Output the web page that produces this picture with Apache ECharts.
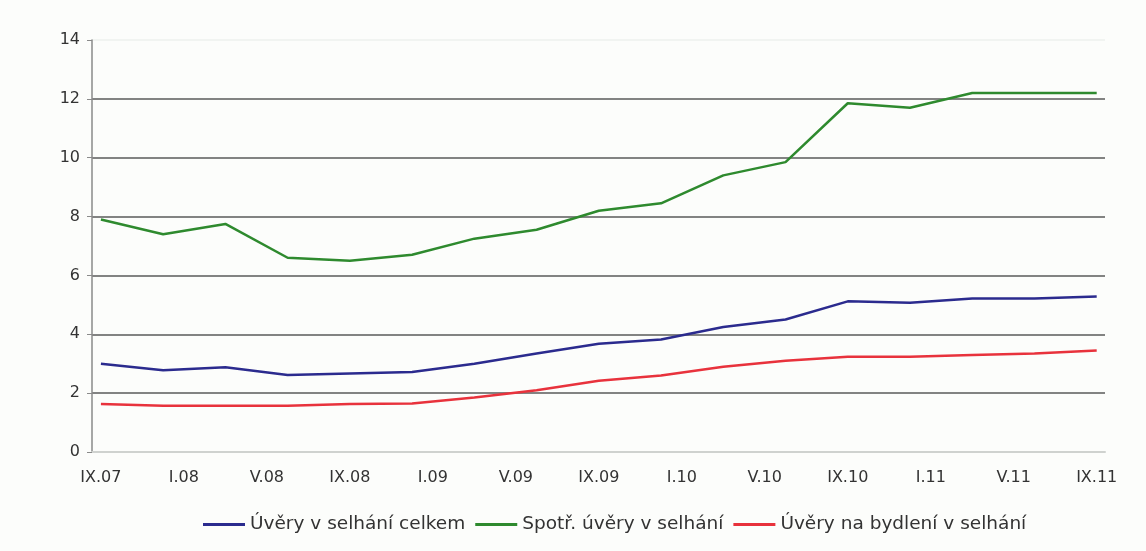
<!DOCTYPE html>
<html>
<head>
<meta charset="utf-8">
<script src="https://cdn.jsdelivr.net/npm/echarts@6/dist/echarts.min.js"></script>
<style>
html,body{margin:0;padding:0;background:#fcfdfb;}
#c{width:1146px;height:551px;}
</style>
</head>
<body>
<div id="c"></div>
<script>
// Quarterly observations, IX.07 .. IX.11 (3-month steps)
const quarters = ['IX.07','XII.07','III.08','VI.08','IX.08','XII.08','III.09','VI.09','IX.09','XII.09','III.10','VI.10','IX.10','XII.10','III.11','VI.11','IX.11'];
const tickLabels = ['IX.07','I.08','V.08','IX.08','I.09','V.09','IX.09','I.10','V.10','IX.10','I.11','V.11','IX.11'];
const seriesNames = ['Úvěry v selhání celkem','Spotř. úvěry v selhání','Úvěry na bydlení v selhání'];
const totalLoans = [3.0,2.78,2.88,2.62,2.67,2.72,3.0,3.35,3.68,3.82,4.25,4.5,5.12,5.07,5.22,5.22,5.28];
const consumerLoans = [7.9,7.4,7.75,6.6,6.5,6.7,7.25,7.55,8.2,8.45,9.4,9.85,11.85,11.7,12.2,12.2,12.2];
const housingLoans = [1.63,1.57,1.57,1.57,1.63,1.65,1.85,2.1,2.42,2.6,2.9,3.1,3.24,3.24,3.3,3.35,3.45];

const toPairs = arr => arr.map((v,i)=>[i*3, v]);
const tickPos = tickLabels.map((_,i)=>i*4);
const FONT = 'DejaVu Sans';

const chart = echarts.init(document.getElementById('c'));
chart.setOption({
  backgroundColor:'#fcfdfb',
  animation:false,
  grid:{left:92,right:41,top:40,bottom:99},
  xAxis:{
    type:'value', min:-0.43, max:48.4,
    axisLine:{show:true,onZero:false,lineStyle:{color:'#cfd2cf',width:2}},
    axisTick:{show:false},
    splitLine:{show:false},
    axisLabel:{customValues:tickPos,formatter:v=>tickLabels[Math.round(v/4)],
      color:'#333',fontSize:16,fontFamily:FONT,margin:18}
  },
  yAxis:{
    type:'value', min:0, max:14, interval:2,
    axisLine:{show:true,onZero:false,lineStyle:{color:'#8a8a8a',width:1.5}},
    axisTick:{show:true,length:5,lineStyle:{color:'#8a8a8a'}},
    splitLine:{show:true,lineStyle:{color:['#cfd2cf','#5a5a5a','#5a5a5a','#5a5a5a','#5a5a5a','#5a5a5a','#5a5a5a','#eef0ee'],width:1.5}},
    axisLabel:{color:'#333',fontSize:16,fontFamily:FONT,margin:12}
  },
  legend:{
    top:515, left:203, padding:0,
    icon:'rect', itemWidth:42, itemHeight:3, itemGap:10,
    textStyle:{color:'#333',fontSize:18.5,fontFamily:FONT},
    data:seriesNames
  },
  series:[
    {name:seriesNames[0],type:'line',data:toPairs(totalLoans),symbol:'none',lineStyle:{color:'#2b2b8e',width:2.5},itemStyle:{color:'#2b2b8e'}},
    {name:seriesNames[1],type:'line',data:toPairs(consumerLoans),symbol:'none',lineStyle:{color:'#2e8a2e',width:2.5},itemStyle:{color:'#2e8a2e'}},
    {name:seriesNames[2],type:'line',data:toPairs(housingLoans),symbol:'none',lineStyle:{color:'#e8323c',width:2.5},itemStyle:{color:'#e8323c'}}
  ]
});
</script>
</body>
</html>
